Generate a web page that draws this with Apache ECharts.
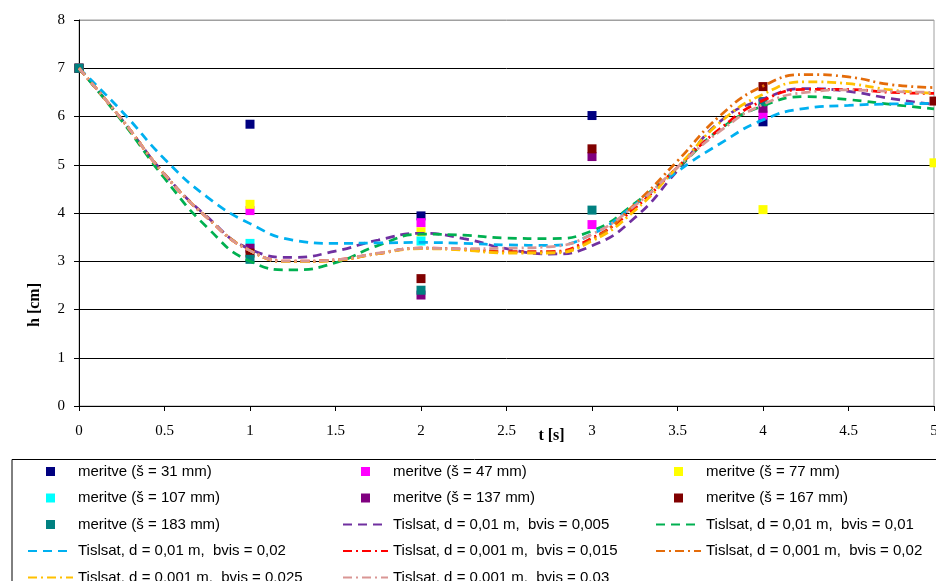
<!DOCTYPE html>
<html>
<head>
<meta charset="utf-8">
<script src="https://cdn.jsdelivr.net/npm/echarts@6/dist/echarts.min.js"></script>
<style>
html,body{margin:0;padding:0;background:#fff;}
#c{width:936px;height:581px;}
</style>
</head>
<body>
<div id="c"></div>
<script>
// measurement times
var tMeas = [0, 1, 2, 3, 4, 5];
// measurements (h in cm) per sensor
var m31  = [7, 5.84, 3.94, 6.02, 5.89, null];
var m47  = [7, 4.05, 3.80, 3.76, 6.03, null];
var m77  = [7, 4.18, 3.61, null, 4.07, 5.04];
var m107 = [7, 3.37, 3.42, null, null, null];
var m137 = [7, 3.27, 2.30, 5.17, 6.17, null];
var m167 = [7, 3.17, 2.64, 5.33, 6.62, 6.32];
var m183 = [7, 3.04, 2.40, 4.06, 6.31, null];

// simulation times
var tFit = [0,0.25,0.5,0.75,1,1.25,1.5,1.75,2,2.25,2.5,2.75,3,3.25,3.5,3.75,4,4.25,4.5,4.75,5];
var fitA = [7,5.94,4.81,3.92,3.25,3.08,3.21,3.44,3.58,3.47,3.26,3.15,3.32,3.90,4.88,5.90,6.36,6.58,6.52,6.37,6.25]; // d=0,01 bvis=0,005
var fitB = [7,5.91,4.72,3.70,3.00,2.82,2.97,3.33,3.56,3.54,3.48,3.47,3.63,4.20,4.93,5.74,6.22,6.41,6.35,6.25,6.16]; // d=0,01 bvis=0,01
var fitC = [7,6.11,5.12,4.33,3.78,3.44,3.37,3.38,3.39,3.37,3.34,3.33,3.56,4.17,4.86,5.44,5.93,6.17,6.23,6.26,6.27]; // d=0,01 bvis=0,02
var fitD = [7,5.94,4.80,3.90,3.22,3.00,3.03,3.16,3.27,3.25,3.20,3.20,3.48,4.10,4.95,5.75,6.33,6.56,6.56,6.50,6.48]; // d=0,001 bvis=0,015
var fitE = [7,5.94,4.80,3.90,3.22,2.99,3.02,3.16,3.27,3.24,3.19,3.19,3.45,4.18,5.08,6.02,6.63,6.87,6.82,6.66,6.60]; // d=0,001 bvis=0,02
var fitF = [7,5.94,4.80,3.90,3.22,2.99,3.02,3.16,3.26,3.23,3.17,3.17,3.42,4.05,4.95,5.88,6.46,6.72,6.68,6.55,6.48]; // d=0,001 bvis=0,025
var fitG = [7,5.94,4.80,3.90,3.22,3.00,3.03,3.17,3.27,3.26,3.27,3.30,3.56,4.15,4.95,5.70,6.25,6.50,6.55,6.52,6.50]; // d=0,001 bvis=0,03

var xTicks = {min: 0, max: 5, interval: 0.5};
var yTicks = {min: 0, max: 8, interval: 1};

var measNames = ['meritve (š = 31 mm)','meritve (š = 47 mm)','meritve (š = 77 mm)','meritve (š = 107 mm)','meritve (š = 137 mm)','meritve (š = 167 mm)','meritve (š = 183 mm)'];
var measData = [m31, m47, m77, m107, m137, m167, m183];
var measColors = ['#000080','#FF00FF','#FFFF00','#00FFFF','#800080','#800000','#008080'];

var fitNames = ['Tislsat, d = 0,01 m,  bvis = 0,005','Tislsat, d = 0,01 m,  bvis = 0,01','Tislsat, d = 0,01 m,  bvis = 0,02','Tislsat, d = 0,001 m,  bvis = 0,015','Tislsat, d = 0,001 m,  bvis = 0,02','Tislsat, d = 0,001 m,  bvis = 0,025','Tislsat, d = 0,001 m,  bvis = 0,03'];
var fitData = [fitA, fitB, fitC, fitD, fitE, fitF, fitG];
var fitColors = ['#7030A0','#00B050','#00B0F0','#FF0000','#E46C0A','#FFC000','#D99694'];
var dashed = [9, 6];
var dashDot = [9, 4, 2, 4];
var fitDash = [dashed, dashed, dashed, dashDot, dashDot, dashDot, dashDot];

function pairs(xs, ys) {
  var out = [];
  for (var i = 0; i < xs.length; i++) if (ys[i] != null) out.push([xs[i], ys[i]]);
  return out;
}

var series = [];
measNames.forEach(function(n, i) {
  series.push({
    name: n, type: 'scatter', symbol: 'rect', symbolSize: 9,
    itemStyle: {color: measColors[i], opacity: 1},
    data: pairs(tMeas, measData[i])
  });
});
fitNames.forEach(function(n, i) {
  series.push({
    name: n, type: 'line', smooth: true, symbol: 'none', showSymbol: false,
    itemStyle: {color: fitColors[i]},
    lineStyle: {color: fitColors[i], width: 2.75, type: fitDash[i], cap: 'butt'},
    data: pairs(tFit, fitData[i])
  });
});

var sqIcon = 'path://M0,0M45,15M18,3h9v9h-9z';
function legendItem(name) {
  return measNames.indexOf(name) >= 0
    ? {name: name, icon: sqIcon}
    : {name: name, itemStyle: {opacity: 0, color: 'rgba(0,0,0,0)', borderWidth: 0}};
}
var col1 = [measNames[0], measNames[3], measNames[6], fitNames[2], fitNames[5]];
var col2 = [measNames[1], measNames[4], fitNames[0], fitNames[3], fitNames[6]];
var col3 = [measNames[2], measNames[5], fitNames[1], fitNames[4]];

function mkLegend(data, left) {
  return {
    orient: 'vertical', left: left, top: 464, height: 200, width: 300, padding: 0,
    itemWidth: 45, itemHeight: 15, itemGap: 11.5,
    selectedMode: false,
    textStyle: {fontFamily: 'Liberation Sans, Arial, sans-serif', fontSize: 15, color: '#000'},
    data: data.map(legendItem)
  };
}

var gridLineColors = ['#000','#000','#000','#000','#000','#000','#000','#000','#a0a0a0'];

var chart = echarts.init(document.getElementById('c'), null, {renderer: 'canvas'});
chart.setOption({
  animation: false,
  backgroundColor: '#fff',
  grid: {left: 79, right: 2, top: 20, bottom: 175, show: true, borderColor: '#a0a0a0', borderWidth: 1, containLabel: false, outerBoundsMode: 'none'},
  legend: [mkLegend(col1, 27), mkLegend(col2, 342), mkLegend(col3, 655)],
  graphic: [{
    type: 'rect', left: 9.5, top: 457,
    shape: {x: 0, y: 0, width: 1000, height: 200},
    style: {fill: 'none', stroke: '#000', lineWidth: 1}, silent: true, z: -1
  }],
  xAxis: {
    type: 'value', min: xTicks.min, max: xTicks.max, interval: xTicks.interval,
    name: 't [s]', nameLocation: 'middle', nameGap: 22, nameMoveOverlap: false,
    nameTextStyle: {fontFamily: 'Liberation Serif, Times New Roman, serif', fontWeight: 'bold', fontSize: 16, color: '#000', padding: [0,0,0,90]},
    axisLine: {show: true, onZero: false, lineStyle: {color: '#000', width: 1}},
    axisTick: {show: true, inside: false, length: 5, lineStyle: {color: '#000'}},
    axisLabel: {fontFamily: 'Liberation Serif, Times New Roman, serif', fontSize: 15, color: '#000', margin: 18, showMaxLabel: true, showMinLabel: true},
    splitLine: {show: false}
  },
  yAxis: {
    type: 'value', min: yTicks.min, max: yTicks.max, interval: yTicks.interval,
    name: 'h [cm]', nameLocation: 'middle', nameGap: 36, nameMoveOverlap: false,
    nameTextStyle: {fontFamily: 'Liberation Serif, Times New Roman, serif', fontWeight: 'bold', fontSize: 16, color: '#000', padding: [0,184,0,0]},
    axisLine: {show: true, lineStyle: {color: '#000', width: 1}},
    axisTick: {show: true, inside: false, length: 5, lineStyle: {color: '#000'}},
    axisLabel: {fontFamily: 'Liberation Serif, Times New Roman, serif', fontSize: 15, color: '#000', margin: 14},
    splitLine: {show: true, lineStyle: {color: gridLineColors, width: 1}}
  },
  series: series
});
</script>
</body>
</html>
